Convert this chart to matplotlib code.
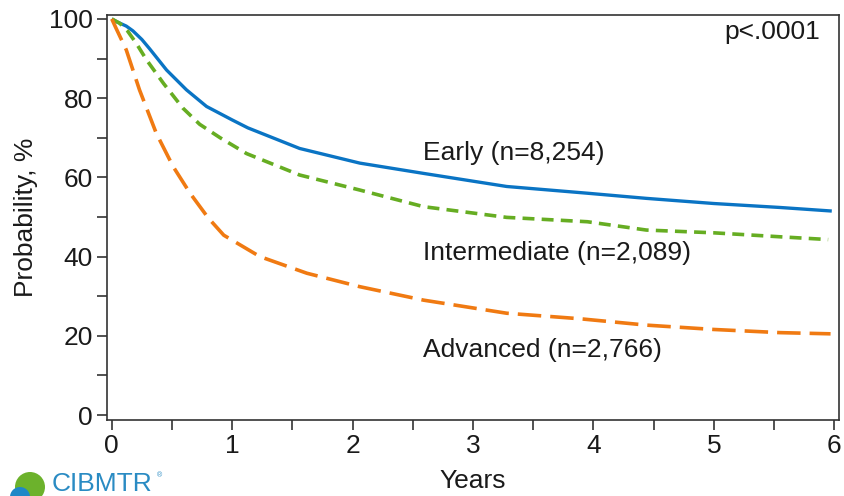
import matplotlib.pyplot as plt
from matplotlib.patches import Circle

# values (years, probability %)
early_x = [0, 0.04, 0.12, 0.175, 0.25, 0.316, 0.455, 0.62, 0.787, 1.0, 1.13, 1.56, 2.06,
           2.59, 3.28, 3.95, 4.44, 5.0, 5.55, 5.98]
early_y = [100, 99.3, 98.2, 97.0, 94.8, 92.4, 87.1, 82.1, 77.9, 74.5, 72.5, 67.3, 63.6,
           61.0, 57.7, 56.0, 54.7, 53.4, 52.4, 51.5]

inter_x = [0, 0.066, 0.13, 0.2, 0.29, 0.43, 0.59, 0.73, 0.9, 1.12, 1.56, 2.06, 2.59,
           3.28, 3.95, 4.44, 5.0, 5.55, 5.95]
inter_y = [100, 98.9, 97.0, 94.0, 89.6, 83.7, 77.5, 73.4, 70.0, 66.0, 60.6, 56.8, 52.6,
           49.9, 48.8, 46.7, 46.0, 45.0, 44.3]

adv_x = [0, 0.03, 0.12, 0.23, 0.37, 0.51, 0.65, 0.8, 0.93, 1.23, 1.62, 2.06, 2.59,
         3.28, 3.89, 4.44, 5.0, 5.55, 5.97]
adv_y = [100, 98.0, 92.2, 82.1, 71.1, 62.7, 56.0, 49.8, 45.4, 40.0, 35.8, 32.4, 29.0,
         25.7, 24.3, 22.7, 21.6, 20.8, 20.5]

labels = ["Early (n=8,254)", "Intermediate (n=2,089)", "Advanced (n=2,766)"]
label_y = [66.2, 40.9, 16.4]

plt.rcParams['font.family'] = ['Liberation Sans', 'DejaVu Sans']

fig = plt.figure(figsize=(8.45, 4.96), dpi=100)
ax = fig.add_axes([0.1266, 0.1532, 0.8663, 0.8166])

ax.plot(early_x, early_y, color='#0a74c4', lw=2.4, solid_capstyle='butt')
ax.plot(inter_x, inter_y, color='#66ad22', lw=2.6, dashes=(3.3, 2.0))
ax.plot(adv_x, adv_y, color='#f07a12', lw=2.6, dashes=(6.5, 2.5))

for txt, yy in zip(labels, label_y):
    ax.text(2.585, yy, txt, fontsize=19, va='center', ha='left', color='#1a1a1a')
ax.text(5.885, 96.7, "p<.0001", fontsize=19, va='center', ha='right', color='#1a1a1a')

ax.set_xlim(-0.04, 6.04)
ax.set_ylim(-1.26, 101)
ax.set_xticks(range(0, 7))
ax.set_xticks([0.5, 1.5, 2.5, 3.5, 4.5, 5.5], minor=True)
ax.set_yticks(range(0, 101, 20))
ax.set_yticks(range(10, 100, 20), minor=True)
ax.tick_params(which='both', direction='out', length=7, width=1.2, color='#333333',
               labelsize=19, labelcolor='#1a1a1a')
ax.tick_params(axis='x', pad=3)
ax.tick_params(axis='y', pad=3)
for s in ax.spines.values():
    s.set_color('#333333')
    s.set_linewidth(1.2)

ax.set_xlabel("Years", fontsize=19, color='#1a1a1a', labelpad=8)
ax.set_ylabel("Probability, %", fontsize=19, color='#1a1a1a', labelpad=8)

# logo in lower-left corner (display coords, origin bottom-left)
fig.patches.append(Circle((30, 496 - 487), 15, transform=None, facecolor='#6cb22c',
                          edgecolor='none', figure=fig))
fig.patches.append(Circle((20, 496 - 497), 10, transform=None, facecolor='#1e88c7',
                          edgecolor='none', figure=fig))
fig.text(52 / 845, 1 - 472 / 496, "CIBMTR", fontsize=19, color='#2a8bc3',
         va='top', ha='left')
fig.text(157 / 845, 1 - 472 / 496, "®", fontsize=5, color='#2a8bc3', va='top')

fig.savefig("out.png", dpi=100)
